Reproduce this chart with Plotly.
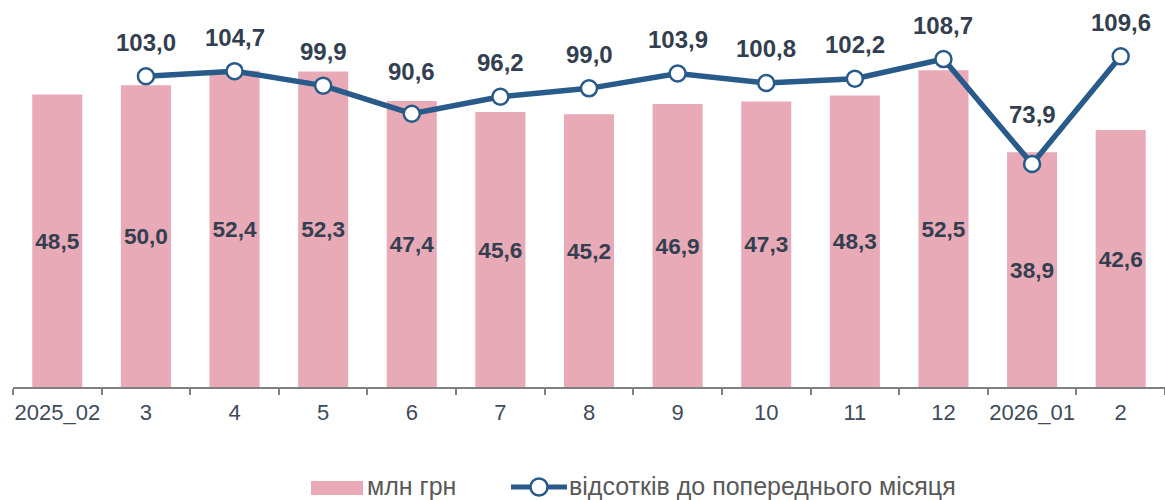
import plotly.graph_objects as go

categories = ["2025_02", "3", "4", "5", "6", "7", "8", "9", "10", "11", "12", "2026_01", "2"]
mln_grn = [48.5, 50.0, 52.4, 52.3, 47.4, 45.6, 45.2, 46.9, 47.3, 48.3, 52.5, 38.9, 42.6]
pct_prev = [None, 103.0, 104.7, 99.9, 90.6, 96.2, 99.0, 103.9, 100.8, 102.2, 108.7, 73.9, 109.6]

bar_name = "млн грн"
line_name = "відсотків до попереднього місяця"

def fmt(v):
    return "" if v is None else f"{v:.1f}".replace(".", ",")

FONT = "Liberation Sans, Arial, sans-serif"
LABEL_COLOR = "#333F50"
BAR_COLOR = "#E8AAB6"
LINE_COLOR = "#285A8A"
LEG_COLOR = "#595959"

# plot area geometry (pixels) used for the hand-drawn legend
L, R, T, B = 13, 0, 25, 113
W, H = 1165 - L - R, 500 - T - B

def px(x):
    return (x - L) / W

def py(y):
    return (500 - B - y) / H

# label lift above the markers (px); a few labels were nudged further up
label_lift_default = 34
label_lift_override = {"6": 42, "2026_01": 50}

fig = go.Figure()
fig.add_trace(go.Bar(
    x=categories, y=mln_grn, name=bar_name,
    marker=dict(color=BAR_COLOR, line=dict(width=0)),
    width=0.565,
    text=[fmt(v) for v in mln_grn], textposition="inside",
    insidetextanchor="middle", textangle=0,
    textfont=dict(family=FONT, size=25, color=LABEL_COLOR, weight="bold"),
    yaxis="y", showlegend=False,
))
fig.add_trace(go.Scatter(
    x=categories, y=pct_prev, name=line_name,
    mode="lines+markers",
    line=dict(color=LINE_COLOR, width=5.5),
    marker=dict(size=16, color="white", line=dict(color=LINE_COLOR, width=2.5)),
    yaxis="y2", cliponaxis=False, showlegend=False,
))

for i, (c, v) in enumerate(zip(categories, pct_prev)):
    if v is None:
        continue
    fig.add_annotation(
        x=i, y=v, xref="x", yref="y2", text=fmt(v), showarrow=False,
        yshift=label_lift_override.get(c, label_lift_default),
        font=dict(family=FONT, size=24, color=LABEL_COLOR, weight="bold"),
        xanchor="center", yanchor="middle",
    )

# legend drawn by hand so the swatches match the original proportions
leg_y = 487
fig.add_shape(type="rect", xref="paper", yref="paper",
              x0=px(311), x1=px(363), y0=py(495), y1=py(481),
              fillcolor=BAR_COLOR, line=dict(width=0))
fig.add_annotation(xref="paper", yref="paper", x=px(366), y=py(leg_y - 1.5),
                   text=bar_name, showarrow=False, xanchor="left", yanchor="middle",
                   borderpad=0,
                   font=dict(family=FONT, size=25, color=LEG_COLOR))
fig.add_shape(type="line", xref="paper", yref="paper",
              x0=px(511), x1=px(567), y0=py(leg_y), y1=py(leg_y),
              line=dict(color=LINE_COLOR, width=5))
fig.add_shape(type="circle", xref="paper", yref="paper",
              x0=px(530.5), x1=px(547.5), y0=py(leg_y + 8.5), y1=py(leg_y - 8.5),
              fillcolor="white", line=dict(color=LINE_COLOR, width=2.5))
fig.add_annotation(xref="paper", yref="paper", x=px(568), y=py(leg_y - 1.5),
                   text=line_name, showarrow=False, xanchor="left", yanchor="middle",
                   borderpad=0,
                   font=dict(family=FONT, size=25, color=LEG_COLOR))

fig.update_layout(
    width=1165, height=500,
    margin=dict(l=L, r=R, t=T, b=B, autoexpand=False),
    paper_bgcolor="white", plot_bgcolor="white",
    font=dict(family=FONT, size=22, color="#404A5A"),
    showlegend=False,
    xaxis=dict(type="category", range=[-0.5, len(categories) - 0.5],
               showline=True, linecolor="#808080", linewidth=1.5,
               ticks="outside", tickson="boundaries", ticklen=6, tickcolor="#808080",
               tickwidth=1.5, showgrid=False, ticklabelstandoff=5, tickangle=0,
               tickfont=dict(family=FONT, size=22, color="#404A5A")),
    yaxis=dict(range=[0, 60], visible=False, showgrid=False),
    yaxis2=dict(range=[0, 120], overlaying="y", side="right", visible=False, showgrid=False),
)

fig.write_html(
    "out.html",
    config={"displayModeBar": False},
    post_script=(
        "document.body.style.margin='0';"
        "document.body.style.overflow='hidden';"
        "document.documentElement.style.overflow='hidden';"
    ),
)
